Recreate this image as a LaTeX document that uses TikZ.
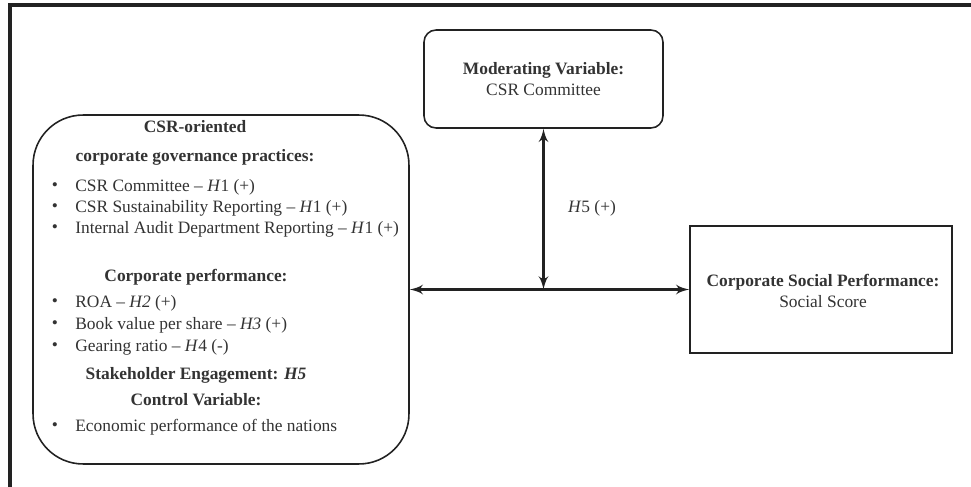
\documentclass[tikz,border=0pt]{standalone}
\usepackage{fontspec}
\setmainfont{Liberation Serif}
\usepackage{tikz}
\usetikzlibrary{arrows}

\definecolor{textgray}{HTML}{333333}
\definecolor{linegray}{HTML}{222222}

\tikzset{
  box/.style={draw=linegray, line width=0.9pt},
  txt/.style={text=textgray, inner sep=0pt, font=\fontsize{9.9}{11.6}\selectfont},
  head/.style={txt, font=\fontsize{9.9}{11.6}\selectfont\bfseries},
  item/.style={txt, anchor=west},
  bul/.style={txt, anchor=center},
  link/.style={draw=linegray, line width=1.6pt, latex'-latex'}
}

\begin{document}
\begin{tikzpicture}[x=0.02cm, y=-0.02cm]
\useasboundingbox (0,0) rectangle (971,487);

% Outer frame
\draw[linegray, line width=2pt] (10,487) -- (10,5) -- (971,5);

% Boxes
\node[box, rounded corners=0.24cm, minimum width=4.78cm, minimum height=1.96cm] (modbox) at (543.5,79) {};
\node[box, rounded corners=1cm, minimum width=7.52cm, minimum height=6.98cm] (govbox) at (221,289.5) {};
\node[box, minimum width=5.24cm, minimum height=2.54cm] (socbox) at (821,289.5) {};

% Moderating variable
\node[head] (modhead) at (543.5,70) {Moderating Variable:};
\node[txt] (modtext) at (543.5,90) {CSR Committee};

% Corporate social performance
\node[head] (sochead) at (823,282) {Corporate Social Performance:};
\node[txt] (soctext) at (823,302) {Social Score};

% CSR-oriented governance
\node[head] (govhead1) at (195,127) {CSR-oriented};
\node[head] (govhead2) at (195,157) {corporate governance practices:};
\node[bul] (b1) at (55,187) {\textbullet};
\node[item] (i1) at (75,187) {CSR Committee -- \textit{H}1 (+)};
\node[bul] (b2) at (55,208) {\textbullet};
\node[item] (i2) at (75,208) {CSR Sustainability Reporting -- \textit{H}1 (+)};
\node[bul] (b3) at (55,229) {\textbullet};
\node[item] (i3) at (75,229) {Internal Audit Department Reporting -- \textit{H}1 (+)};

% Corporate performance
\node[head] (perfhead) at (196,277) {Corporate performance:};
\node[bul] (b4) at (55,303) {\textbullet};
\node[item] (i4) at (75,303) {ROA -- \textit{H2} (+)};
\node[bul] (b5) at (55,325) {\textbullet};
\node[item] (i5) at (75,325) {Book value per share -- \textit{H3} (+)};
\node[bul] (b6) at (55,347) {\textbullet};
\node[item] (i6) at (75,347) {Gearing ratio -- \textit{H}4 (-)};

% Stakeholder and control
\node[head] (stakehead) at (196,375) {Stakeholder Engagement: \textit{H5}};
\node[head] (ctrlhead) at (196,400) {Control Variable:};
\node[bul] (b7) at (55,427) {\textbullet};
\node[item] (i7) at (75,427) {Economic performance of the nations};

% Arrows
\coordinate (meet) at (modbox.south |- socbox.west);
\draw[link] (govbox.east |- socbox.west) -- (socbox.west);
\draw[link] (modbox.south) -- (meet);
\node[txt] (h5lbl) at (592,208) {\textit{H}5 (+)};
\end{tikzpicture}
\end{document}
